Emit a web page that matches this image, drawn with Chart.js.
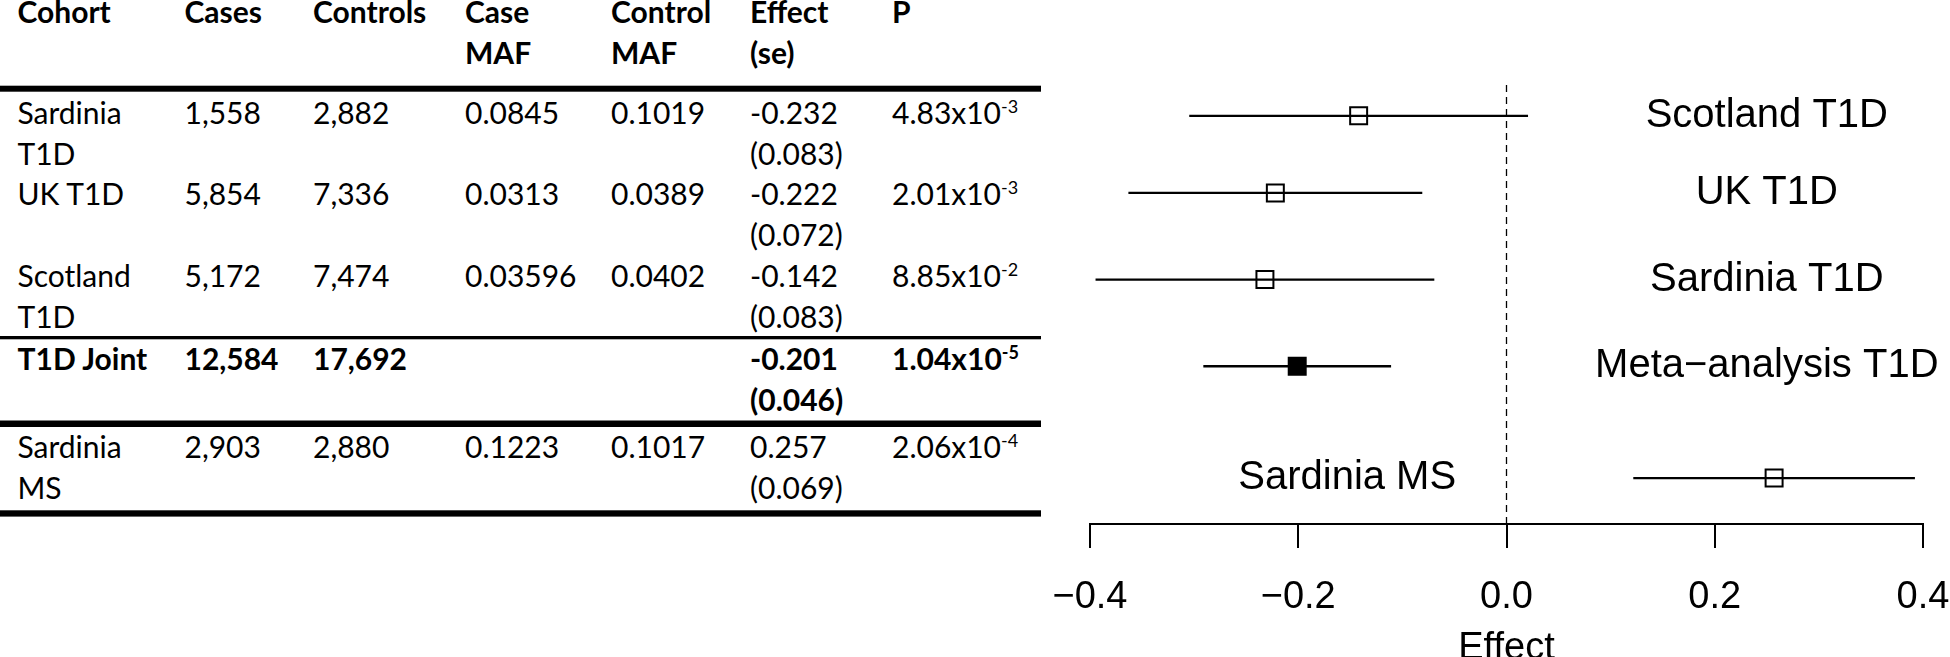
<!DOCTYPE html>
<html><head><meta charset="utf-8">
<script src="https://cdn.jsdelivr.net/npm/chart.js@4.4.0/dist/chart.umd.min.js"></script>
<style>
html,body{margin:0;padding:0;background:#fff;width:1950px;height:657px;overflow:hidden;}
#tbl{position:absolute;left:0;top:0;}
#wrap{position:absolute;left:1045px;top:0;width:905px;height:657px;}
</style></head><body>
<svg id="tbl" width="1045" height="657" xmlns="http://www.w3.org/2000/svg"></svg>
<div id="wrap"><canvas id="c" width="905" height="657"></canvas></div>
<script>
// ---------- table data ----------
const headers = [['Cohort'], ['Cases'], ['Controls'], ['Case', 'MAF'], ['Control', 'MAF'], ['Effect', '(se)'], ['P']];
const cohorts = [['Sardinia', 'T1D'], ['UK T1D'], ['Scotland', 'T1D'], ['T1D Joint'], ['Sardinia', 'MS']];
const cases = [1558, 5854, 5172, 12584, 2903];
const controls = [2882, 7336, 7474, 17692, 2880];
const caseMAF = ['0.0845', '0.0313', '0.03596', '', '0.1223'];
const controlMAF = ['0.1019', '0.0389', '0.0402', '', '0.1017'];
const tableEffect = [-0.232, -0.222, -0.142, -0.201, 0.257];
const tableSE = [0.083, 0.072, 0.083, 0.046, 0.069];
const pMantissa = ['4.83', '2.01', '8.85', '1.04', '2.06'];
const pExponent = ['-3', '-3', '-2', '-5', '-4'];
const boldRow = [false, false, false, true, false];

// ---------- forest plot data ----------
const forestLabels = ['Scotland T1D', 'UK T1D', 'Sardinia T1D', 'Meta\u2212analysis T1D', 'Sardinia MS'];
const forestEffect = [-0.142, -0.222, -0.232, -0.201, 0.257];
const forestSE = [0.083, 0.072, 0.083, 0.046, 0.069];
const forestPooled = [false, false, false, true, false];
const forestRow = [4.71, 3.82, 2.82, 1.82, 0.53];
const forestLabelX = [0.25, 0.25, 0.25, 0.25, -0.153];
const xTickValues = [-0.4, -0.2, 0, 0.2, 0.4];
const refLineTop = 5.1;

// ---------- table drawing (SVG text) ----------
const NS = 'http://www.w3.org/2000/svg';
const svg = document.getElementById('tbl');
const TFONT = 'Lato, "Open Sans", sans-serif';
const TSIZE = 30;
const colX = [17.5, 184.5, 313, 465, 611, 750, 892];
const headerBase = 22.7, lineGap = 41;
const rowBase = [124, 205, 286.7, 370, 458.3];
const rules = [[85.7, 6], [336, 3.3], [420.5, 6.5], [510.3, 6.3]];

function addText(x, y, s, bold) {
  const t = document.createElementNS(NS, 'text');
  t.setAttribute('x', x); t.setAttribute('y', y);
  t.setAttribute('font-family', TFONT); t.setAttribute('font-size', TSIZE);
  t.setAttribute('fill', '#000');
  if (bold) t.setAttribute('font-weight', 'bold');
  t.textContent = s;
  svg.appendChild(t);
  return t;
}
headers.forEach((lines, c) => lines.forEach((s, k) => addText(colX[c], headerBase + k * lineGap, s, true)));
rules.forEach(([y, h]) => {
  const r = document.createElementNS(NS, 'rect');
  r.setAttribute('x', 0); r.setAttribute('y', y); r.setAttribute('width', 1041); r.setAttribute('height', h);
  r.setAttribute('fill', '#000');
  svg.appendChild(r);
});
const fmtInt = n => n.toLocaleString('en-US');
cohorts.forEach((lines, i) => {
  const b = boldRow[i], y0 = rowBase[i];
  lines.forEach((s, k) => addText(colX[0], y0 + k * lineGap, s, b));
  addText(colX[1], y0, fmtInt(cases[i]), b);
  addText(colX[2], y0, fmtInt(controls[i]), b);
  if (caseMAF[i]) addText(colX[3], y0, caseMAF[i], b);
  if (controlMAF[i]) addText(colX[4], y0, controlMAF[i], b);
  addText(colX[5], y0, tableEffect[i].toFixed(3), b);
  addText(colX[5], y0 + lineGap, '(' + tableSE[i].toFixed(3) + ')', b);
  const t = addText(colX[6], y0, '', b);
  const m = document.createElementNS(NS, 'tspan'); m.textContent = pMantissa[i] + 'x10'; t.appendChild(m);
  const e = document.createElementNS(NS, 'tspan'); e.textContent = pExponent[i];
  e.setAttribute('font-size', 18); e.setAttribute('dy', -11); t.appendChild(e);
});

// ---------- forest plot (Chart.js) ----------
const PFONT = '"Liberation Sans", Arial, Helvetica, sans-serif';
const datasets = [];
datasets.push({
  type: 'scatter',
  data: forestEffect.map((e, i) => ({x: e, y: forestRow[i]})),
  pointStyle: 'rect', pointRadius: 12, pointHoverRadius: 12,
  pointBackgroundColor: forestPooled.map(p => p ? '#000' : 'rgba(0,0,0,0)'),
  pointBorderColor: '#000', pointBorderWidth: 2, order: 0
});
forestEffect.forEach((e, i) => {
  const lo = e - 1.96 * forestSE[i], hi = e + 1.96 * forestSE[i];
  datasets.push({
    type: 'line', data: [{x: lo, y: forestRow[i]}, {x: hi, y: forestRow[i]}],
    borderColor: '#000', borderWidth: 2.3, pointRadius: 0, fill: false, order: 1
  });
});
datasets.push({
  type: 'line', data: [{x: 0, y: 0}, {x: 0, y: refLineTop}],
  borderColor: '#000', borderWidth: 1.3, borderDash: [7, 5], pointRadius: 0, fill: false, order: 2
});

const rowLabels = {
  id: 'rowLabels',
  afterDatasetsDraw(chart) {
    const {ctx, scales: {x, y}} = chart;
    ctx.save();
    ctx.font = '40px ' + PFONT;
    ctx.fillStyle = '#000';
    ctx.textAlign = 'center';
    ctx.textBaseline = 'middle';
    forestLabels.forEach((l, i) => ctx.fillText(l, x.getPixelForValue(forestLabelX[i]), y.getPixelForValue(forestRow[i])));
    ctx.restore();
  }
};

new Chart(document.getElementById('c'), {
  type: 'scatter',
  data: {datasets},
  plugins: [rowLabels],
  options: {
    responsive: false, animation: false, devicePixelRatio: 1,
    layout: {autoPadding: false, padding: {left: 45, right: 27, top: 4, bottom: 0}},
    plugins: {legend: {display: false}, tooltip: {enabled: false}},
    scales: {
      x: {
        type: 'linear', min: -0.4, max: 0.4,
        afterBuildTicks: s => { s.ticks = xTickValues.map(v => ({value: v})); },
        afterFit: s => { s.paddingLeft = 0; s.paddingRight = 0; s.height = 133; },
        ticks: {
          font: {family: PFONT, size: 38}, color: '#000', padding: 27,
          maxRotation: 0, autoSkip: false,
          callback: v => (Math.abs(v) < 1e-9 ? '0.0' : v.toFixed(1)).replace('-', '\u2212')
        },
        grid: {drawOnChartArea: false, drawTicks: true, tickLength: 24, color: '#000', lineWidth: 2},
        border: {display: true, color: '#000', width: 2},
        title: {display: true, text: 'Effect', color: '#000',
          font: {family: PFONT, size: 38, lineHeight: 0.6}, padding: {top: 13.6, bottom: -3}}
      },
      y: {type: 'linear', min: 0, max: 6, display: false}
    }
  }
});
</script>
</body></html>
